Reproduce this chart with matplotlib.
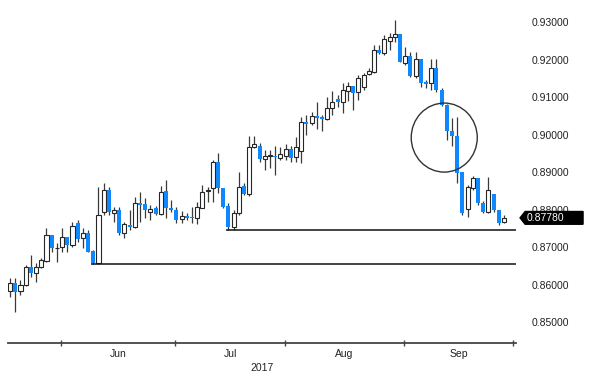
import matplotlib
matplotlib.use("Agg")
import matplotlib.pyplot as plt
import pandas as pd
from matplotlib.patches import Ellipse, Polygon
from matplotlib.transforms import blended_transform_factory

# EUR/GBP daily candles, 18 May - 28 Sep 2017
opens = [0.8583, 0.8604, 0.8583, 0.8599, 0.8647, 0.8631, 0.8647, 0.8663, 0.8732, 0.8697,
         0.8700, 0.8727, 0.8705, 0.8764, 0.8724, 0.8737, 0.8689, 0.8657, 0.8793, 0.8852,
         0.8791, 0.8799, 0.8737, 0.8759, 0.8753, 0.8817, 0.8815, 0.8793, 0.8804, 0.8788,
         0.8849, 0.8804, 0.8799, 0.8775, 0.8783, 0.8780, 0.8777, 0.8804, 0.8849, 0.8857,
         0.8927, 0.8857, 0.8809, 0.8753, 0.8791, 0.8863, 0.8841, 0.8967, 0.8969, 0.8936,
         0.8944, 0.8944, 0.8937, 0.8944, 0.8961, 0.8940, 0.8956, 0.9033, 0.9031, 0.9049,
         0.9047, 0.9041, 0.9071, 0.9095, 0.9087, 0.9117, 0.9129, 0.9113, 0.9127, 0.9161,
         0.9167, 0.9225, 0.9217, 0.9249, 0.9261, 0.9268, 0.9191, 0.9209, 0.9156, 0.9201,
         0.9140, 0.9137, 0.9177, 0.9119, 0.9079, 0.9009, 0.8996, 0.8900, 0.8801, 0.8857,
         0.8884, 0.8817, 0.8793, 0.8841, 0.8799, 0.8767]
highs = [0.8617, 0.8617, 0.8612, 0.8652, 0.8679, 0.8657, 0.8671, 0.8751, 0.8732, 0.8711,
         0.8751, 0.8727, 0.8767, 0.8772, 0.8751, 0.8745, 0.8692, 0.8860, 0.8871, 0.8860,
         0.8807, 0.8807, 0.8767, 0.8799, 0.8833, 0.8847, 0.8831, 0.8812, 0.8809, 0.8863,
         0.8879, 0.8825, 0.8807, 0.8796, 0.8791, 0.8807, 0.8820, 0.8865, 0.8860, 0.8932,
         0.8951, 0.8857, 0.8817, 0.8799, 0.8900, 0.8871, 0.8996, 0.8996, 0.8977, 0.8959,
         0.8959, 0.8969, 0.8967, 0.8975, 0.8969, 0.8993, 0.9047, 0.9052, 0.9060, 0.9087,
         0.9052, 0.9100, 0.9116, 0.9105, 0.9137, 0.9140, 0.9129, 0.9159, 0.9164, 0.9177,
         0.9239, 0.9239, 0.9265, 0.9271, 0.9305, 0.9268, 0.9233, 0.9220, 0.9220, 0.9201,
         0.9145, 0.9201, 0.9201, 0.9124, 0.9081, 0.9044, 0.9047, 0.8900, 0.8865, 0.8889,
         0.8884, 0.8823, 0.8887, 0.8841, 0.8799, 0.8785]
lows = [0.8567, 0.8527, 0.8572, 0.8596, 0.8620, 0.8607, 0.8644, 0.8660, 0.8687, 0.8660,
        0.8687, 0.8687, 0.8700, 0.8713, 0.8697, 0.8687, 0.8655, 0.8655, 0.8785, 0.8785,
        0.8767, 0.8732, 0.8724, 0.8745, 0.8751, 0.8767, 0.8777, 0.8772, 0.8785, 0.8785,
        0.8777, 0.8793, 0.8764, 0.8764, 0.8772, 0.8764, 0.8761, 0.8804, 0.8820, 0.8820,
        0.8844, 0.8804, 0.8745, 0.8745, 0.8785, 0.8839, 0.8836, 0.8964, 0.8927, 0.8905,
        0.8911, 0.8892, 0.8932, 0.8932, 0.8927, 0.8927, 0.8924, 0.8999, 0.9025, 0.9015,
        0.9009, 0.9039, 0.9052, 0.9073, 0.9057, 0.9089, 0.9065, 0.9092, 0.9119, 0.9159,
        0.9164, 0.9215, 0.9212, 0.9225, 0.9247, 0.9193, 0.9185, 0.9153, 0.9151, 0.9127,
        0.9124, 0.9119, 0.9113, 0.9076, 0.8985, 0.8969, 0.8871, 0.8785, 0.8780, 0.8852,
        0.8812, 0.8791, 0.8791, 0.8793, 0.8759, 0.8764]
closes = [0.8604, 0.8580, 0.8599, 0.8647, 0.8631, 0.8647, 0.8665, 0.8732, 0.8697, 0.8699,
          0.8727, 0.8705, 0.8756, 0.8721, 0.8737, 0.8687, 0.8657, 0.8785, 0.8852, 0.8793,
          0.8799, 0.8737, 0.8761, 0.8753, 0.8817, 0.8812, 0.8799, 0.8801, 0.8788, 0.8847,
          0.8804, 0.8799, 0.8772, 0.8783, 0.8777, 0.8777, 0.8807, 0.8847, 0.8851, 0.8927,
          0.8857, 0.8807, 0.8753, 0.8791, 0.8860, 0.8841, 0.8967, 0.8975, 0.8935, 0.8944,
          0.8945, 0.8939, 0.8948, 0.8961, 0.8937, 0.8967, 0.9033, 0.9028, 0.9049, 0.9044,
          0.9041, 0.9071, 0.9087, 0.9087, 0.9119, 0.9129, 0.9111, 0.9151, 0.9159, 0.9169,
          0.9225, 0.9217, 0.9255, 0.9260, 0.9268, 0.9193, 0.9209, 0.9156, 0.9201, 0.9137,
          0.9136, 0.9177, 0.9119, 0.9079, 0.9009, 0.8996, 0.8897, 0.8791, 0.8860, 0.8884,
          0.8817, 0.8793, 0.8852, 0.8799, 0.8764, 0.8778]

support_levels = [0.8745, 0.8655]
support_start = ["2017-07-17", "2017-06-09"]
month_starts = ["2017-06-01", "2017-07-01", "2017-08-01", "2017-09-01", "2017-10-01"]
month_names = ["Jun", "Jul", "Aug", "Sep"]
y_ticks = [0.85, 0.86, 0.87, 0.88, 0.89, 0.90, 0.91, 0.92, 0.93]
circle_center = ("2017-09-12", 0.8992)

UP_FILL = "white"
DOWN_FILL = "#0f87ff"
EDGE = "#262626"

plt.rcParams["font.family"] = ["Liberation Sans", "DejaVu Sans"]

axis_days = pd.bdate_range("2017-05-18", "2017-10-02")
n = len(closes)
xs = list(range(n))

fig = plt.figure(figsize=(6.0, 3.89), dpi=100)
ax = fig.add_axes([8 / 600, 46 / 389, 508 / 600, 343 / 389])

# wicks then bodies
ax.vlines(xs, lows, highs, color="#3a3a3a", linewidth=0.9, zorder=2)
for i in xs:
    o, c = opens[i], closes[i]
    up = c >= o
    ax.bar(i, max(abs(c - o), 0.00006), bottom=min(o, c), width=0.78,
           color=UP_FILL if up else DOWN_FILL,
           edgecolor=EDGE if up else DOWN_FILL,
           linewidth=0.8 if up else 0, zorder=3)

xmin, xmax = -0.4, 97.3
ax.set_xlim(xmin, xmax)
ax.set_ylim(0.84445, 0.93587)

# support lines
for level, start in zip(support_levels, support_start):
    x0 = axis_days.searchsorted(pd.Timestamp(start)) - 0.4
    ax.hlines(level, x0, xmax, color="#111111", linewidth=1.1, zorder=4)

# circle around the break
cx = axis_days.searchsorted(pd.Timestamp(circle_center[0])) + 0.5
ax.add_patch(Ellipse((cx, circle_center[1]), 12.7, 0.0184, fill=False,
                     edgecolor="#333333", linewidth=1.0, zorder=5))

# month axis
bounds = [axis_days.searchsorted(pd.Timestamp(d)) - 0.2 for d in month_starts]
ax.set_xticks(bounds)
ax.set_xticklabels([])
ax.set_xticks([(a + b) / 2 for a, b in zip(bounds[:-1], bounds[1:])], minor=True)
ax.set_xticklabels(month_names, minor=True)
ax.tick_params(axis="x", which="major", direction="inout", length=4, width=1, color="#444444")
ax.tick_params(axis="x", which="minor", length=0, pad=4, labelsize=7.5, labelcolor="#222222")
ax.set_xlabel("2017", fontsize=7.5, color="#222222", labelpad=3)

ax.set_yticks(y_ticks)
ax.set_yticklabels([f"{v:.5f}" for v in y_ticks])
ax.yaxis.tick_right()
ax.tick_params(axis="y", length=0, pad=11, labelsize=7.5, labelcolor="#222222")

for side in ["top", "left", "right"]:
    ax.spines[side].set_visible(False)
ax.spines["bottom"].set_color("#444444")
ax.spines["bottom"].set_linewidth(1.3)

# last price tag
last = closes[-1]
tr = blended_transform_factory(ax.transAxes, ax.transData)
h = 0.0017
tag = Polygon([(1.008, last), (1.018, last + h), (1.132, last + h),
               (1.132, last - h), (1.018, last - h)], closed=True,
              facecolor="black", edgecolor="black", transform=tr, clip_on=False, zorder=6)
ax.add_patch(tag)
ax.text(1.0215, last, f"{last:.5f}", transform=tr, color="white", fontsize=7.5,
        va="center", ha="left", zorder=7, clip_on=False)

fig.savefig("out.png", dpi=100)
